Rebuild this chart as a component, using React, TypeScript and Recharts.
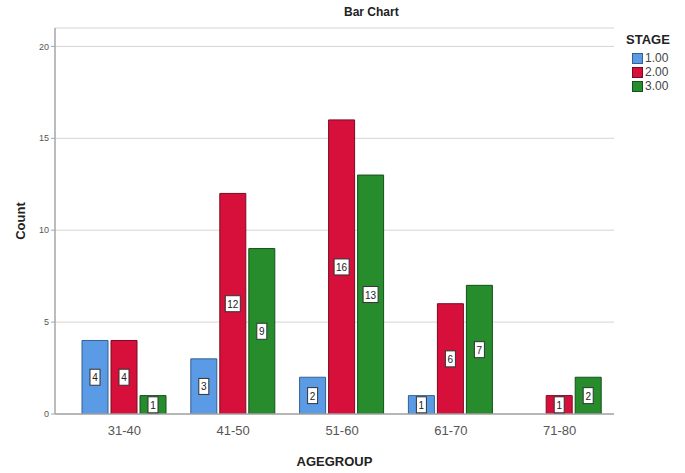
import { BarChart, Bar, XAxis, YAxis, CartesianGrid, Legend, LabelList } from "recharts";

const AGE_GROUPS = ["31-40", "41-50", "51-60", "61-70", "71-80"];
const STAGE_1 = [4, 3, 2, 1, 0];
const STAGE_2 = [4, 12, 16, 6, 1];
const STAGE_3 = [1, 9, 13, 7, 2];
const Y_TICKS = [0, 5, 10, 15, 20];

const SERIES = [
  { key: "s1", name: "1.00", fill: "#5b9be6", stroke: "#35608f" },
  { key: "s2", name: "2.00", fill: "#d6103a", stroke: "#7a0a22" },
  { key: "s3", name: "3.00", fill: "#278c2b", stroke: "#14501a" },
];

const data = AGE_GROUPS.map((g, i) => ({
  group: g,
  s1: STAGE_1[i] || null,
  s2: STAGE_2[i] || null,
  s3: STAGE_3[i] || null,
}));

const font = "Arial, 'Liberation Sans', sans-serif";

function ValueBox(props: any) {
  const { x, y, width, height, value } = props;
  if (value == null) return null;
  const cx = x + width / 2;
  const cy = y + height / 2;
  const w = String(value).length > 1 ? 15 : 10;
  return (
    <g>
      <rect x={cx - w / 2} y={cy - 8} width={w} height={16} fill="#fff" stroke="#333" strokeWidth={1} />
      <text x={cx} y={cy + 4} textAnchor="middle" fontSize={10} fontFamily={font} fill="#222">
        {value}
      </text>
    </g>
  );
}

function StageLegend() {
  return (
    <div style={{ fontFamily: font }}>
      <div style={{ fontWeight: "bold", fontSize: 13, color: "#222", marginBottom: 4 }}>STAGE</div>
      {SERIES.map((s) => (
        <div key={s.key} style={{ display: "flex", alignItems: "center", height: 14, marginLeft: 6 }}>
          <span
            style={{
              display: "inline-block",
              width: 9,
              height: 9,
              background: s.fill,
              border: `1px solid ${s.stroke}`,
              marginRight: 2,
            }}
          />
          <span style={{ fontSize: 12, color: "#444" }}>{s.name}</span>
        </div>
      ))}
    </div>
  );
}

export default function App() {
  return (
    <div style={{ position: "absolute", left: 0, top: 0, width: 685, height: 473, background: "#fff" }}>
      <div
        style={{
          position: "absolute",
          left: 344,
          top: 5,
          fontFamily: font,
          fontWeight: "bold",
          fontSize: 12,
          color: "#222",
        }}
      >
        Bar Chart
      </div>
      <BarChart
        width={685}
        height={473}
        data={data}
        margin={{ top: 28, right: 11, left: 0, bottom: 19 }}
        barSize={26}
        barGap={3}
      >
        <CartesianGrid horizontal vertical={false} stroke="#d4d4d4" />
        <XAxis
          dataKey="group"
          height={40}
          padding={{ left: 15, right: 0 }}
          tickLine={false}
          axisLine={{ stroke: "#a6a6a6", strokeWidth: 1.5 }}
          tick={{ fontSize: 13, fill: "#555", fontFamily: font }}
          tickMargin={6}
          label={{
            value: "AGEGROUP",
            position: "insideBottom",
            offset: -12,
            style: { fontSize: 13, fontWeight: "bold", fill: "#222", fontFamily: font },
          }}
        />
        <YAxis
          width={55}
          domain={[0, 21]}
          ticks={Y_TICKS}
          allowDataOverflow
          tickSize={4}
          tickLine={{ stroke: "#a6a6a6" }}
          axisLine={{ stroke: "#a6a6a6", strokeWidth: 1.5 }}
          tick={{ fontSize: 9, fill: "#555", fontFamily: font }}
          label={{
            value: "Count",
            angle: -90,
            position: "insideLeft",
            offset: 20,
            style: { fontSize: 13, fontWeight: "bold", fill: "#222", fontFamily: font, textAnchor: "middle" },
          }}
        />
        <Legend
          layout="vertical"
          align="right"
          verticalAlign="top"
          content={() => <StageLegend />}
          wrapperStyle={{ position: "absolute", left: 626, top: 32, width: 60 }}
        />
        {SERIES.map((s) => (
          <Bar key={s.key} dataKey={s.key} name={s.name} fill={s.fill} stroke={s.stroke} strokeWidth={1} isAnimationActive={false}>
            <LabelList dataKey={s.key} content={ValueBox} />
          </Bar>
        ))}
      </BarChart>
    </div>
  );
}
